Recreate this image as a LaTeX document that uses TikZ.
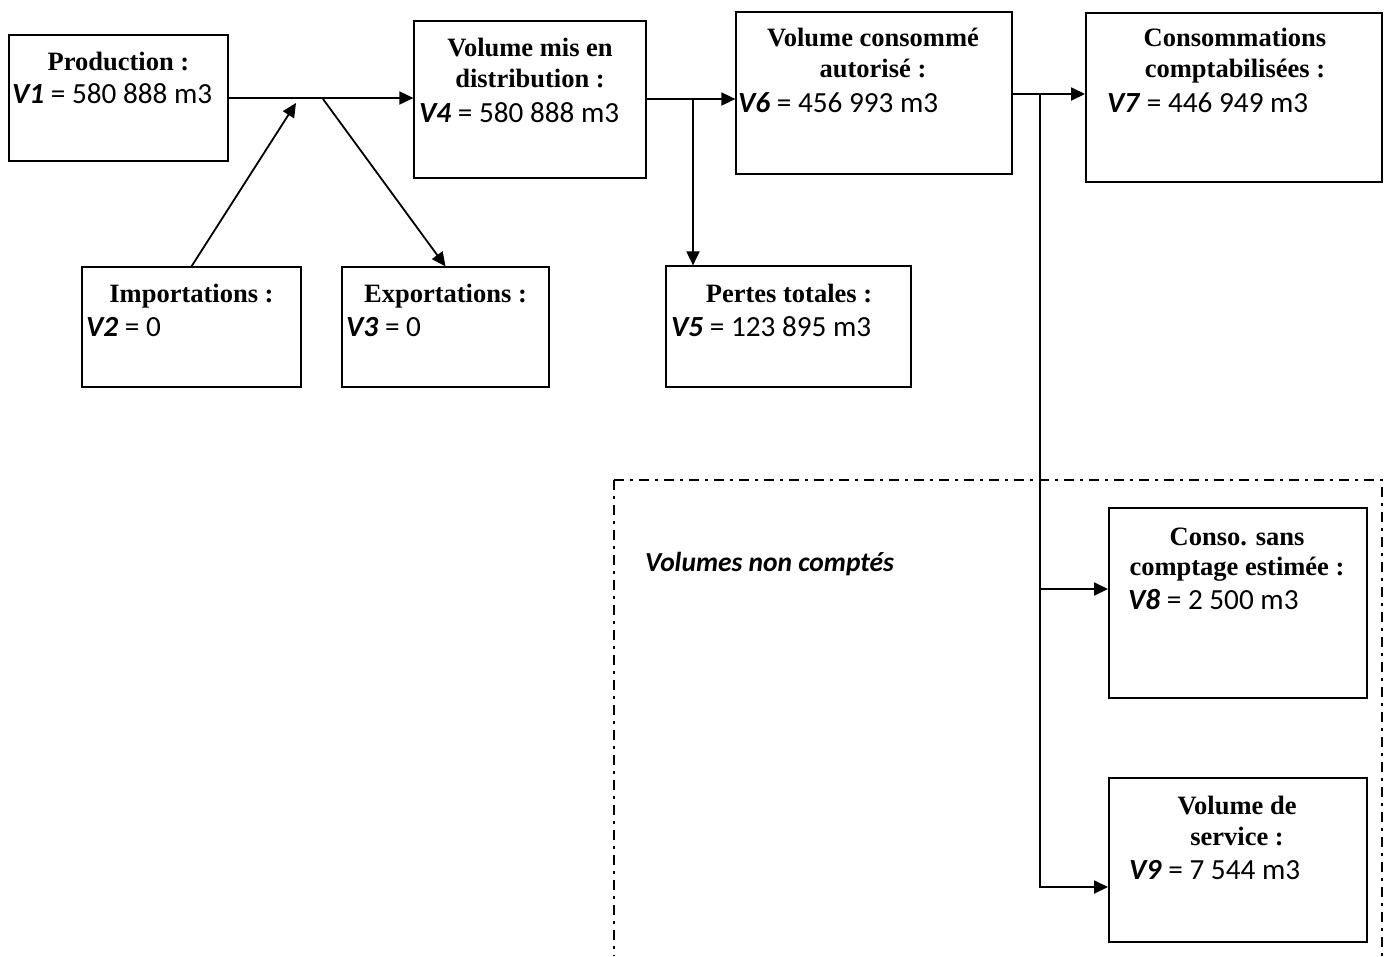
\documentclass[tikz,border=0pt]{standalone}
\usepackage{fontspec}
\setmainfont{Liberation Serif}
\newfontfamily\calfont{Carlito}
\usetikzlibrary{arrows.meta}
\tikzset{
  box/.style={draw, line width=1.2pt, inner sep=0pt},
  thickbox/.style={draw, line width=2pt, inner sep=0pt},
  ttl/.style={anchor=base, inner sep=0pt, font=\fontsize{26.5}{30}\selectfont\bfseries},
  val/.style={anchor=base west, inner sep=0pt, font=\calfont\fontsize{29.2}{32}\selectfont},
  conn/.style={line width=1.8pt},
  arr/.style={line width=1.8pt, -{Triangle[length=14pt, width=13pt]}},
  dashdotline/.style={line width=2.2pt, dash pattern=on 10pt off 6pt on 3pt off 6pt}
}
\newcommand{\vv}[1]{\textbf{\textit{#1}}}
\begin{document}
\begin{tikzpicture}[x=1pt, y=-1pt]
\useasboundingbox (0,0) rectangle (1389,956);

% boxes
\node[box, minimum width=219pt, minimum height=126pt] (p1) at (118.5,98) {};
\node[box, minimum width=232pt, minimum height=157pt] (p4) at (530,99.5) {};
\node[box, minimum width=276pt, minimum height=162pt] (p6) at (874,93) {};
\node[thickbox, minimum width=296pt, minimum height=169pt] (p7) at (1234,97.5) {};
\node[box, minimum width=219pt, minimum height=120pt] (p2) at (191.5,327) {};
\node[box, minimum width=207pt, minimum height=120pt] (p3) at (445.5,327) {};
\node[box, minimum width=245pt, minimum height=121pt] (p5) at (788.5,326.5) {};
\node[thickbox, minimum width=258pt, minimum height=190pt] (p8) at (1238,603) {};
\node[thickbox, minimum width=258pt, minimum height=164pt] (p9) at (1238,860) {};

% texts
\node[ttl] (t1) at (118.5,70.5) {Production :};
\node[val] (v1) at (12,103) {\vv{V1} = 580 888 m3};

\node[ttl] (t4a) at (530,56) {Volume mis en};
\node[ttl] (t4b) at (530,87) {distribution :};
\node[val] (v4) at (419,122) {\vv{V4} = 580 888 m3};

\node[ttl] (t6a) at (873,46) {Volume consommé};
\node[ttl] (t6b) at (873,77) {autorisé :};
\node[val] (v6) at (738,112) {\vv{V6} = 456 993 m3};

\node[ttl] (t7a) at (1235,46) {Consommations};
\node[ttl] (t7b) at (1235,77) {comptabilisées :};
\node[val] (v7) at (1107,112) {\vv{V7} = 446 949 m3};

\node[ttl] (t2) at (191.5,302) {Importations :};
\node[val] (v2) at (86,336) {\vv{V2} = 0};

\node[ttl] (t3) at (445.5,302) {Exportations :};
\node[val] (v3) at (346,336) {\vv{V3} = 0};

\node[ttl] (t5) at (789,302) {Pertes totales :};
\node[val] (v5) at (671,336) {\vv{V5} = 123 895 m3};

\node[ttl] (t8a) at (1237,545) {Conso. sans};
\node[ttl] (t8b) at (1237,575) {comptage estimée :};
\node[val] (v8) at (1128,609) {\vv{V8} = 2 500 m3};

\node[ttl] (t9a) at (1237,814) {Volume de};
\node[ttl] (t9b) at (1237,845) {service :};
\node[val] (v9) at (1129,879) {\vv{V9} = 7 544 m3};

\node[anchor=base west, inner sep=0pt, font=\calfont\fontsize{27.5}{30}\selectfont\bfseries\itshape] (vnc) at (645,571) {Volumes non comptés};

% connectors
\coordinate (j1) at (296,103);
\coordinate (j2) at (323,99);
\coordinate (j3) at (693,100);
\coordinate (j4) at (1040,94);
\coordinate (k8) at (1040,589);
\coordinate (k9) at (1040,887);
\coordinate (dc) at (614,480);
\coordinate (dl) at (614,956);
\coordinate (dr) at (1382,480);
\coordinate (drb) at (1382,956);

\draw[arr] (p1.east |- 0,98) -- (p4.west |- 0,98);
\draw[arr] (p2.north) -- (j1);
\draw[arr] (j2) -- (p3.north);
\draw[arr] (p4.east |- 0,99) -- (p6.west |- 0,99);
\draw[arr] (j3) -- (j3 |- p5.north);
\draw[arr] (p6.east |- j4) -- (p7.west |- j4);
\draw[conn] (j4) -- (k9);
\draw[arr] (k8) -- (k8 -| p8.west);
\draw[arr] ([xshift=-0.9pt]k9) -- (k9 -| p9.west);

\draw[dashdotline] (dc) -- (dl);
\draw[dashdotline] (dc) -- (dr) -- (drb);
\end{tikzpicture}
\end{document}
